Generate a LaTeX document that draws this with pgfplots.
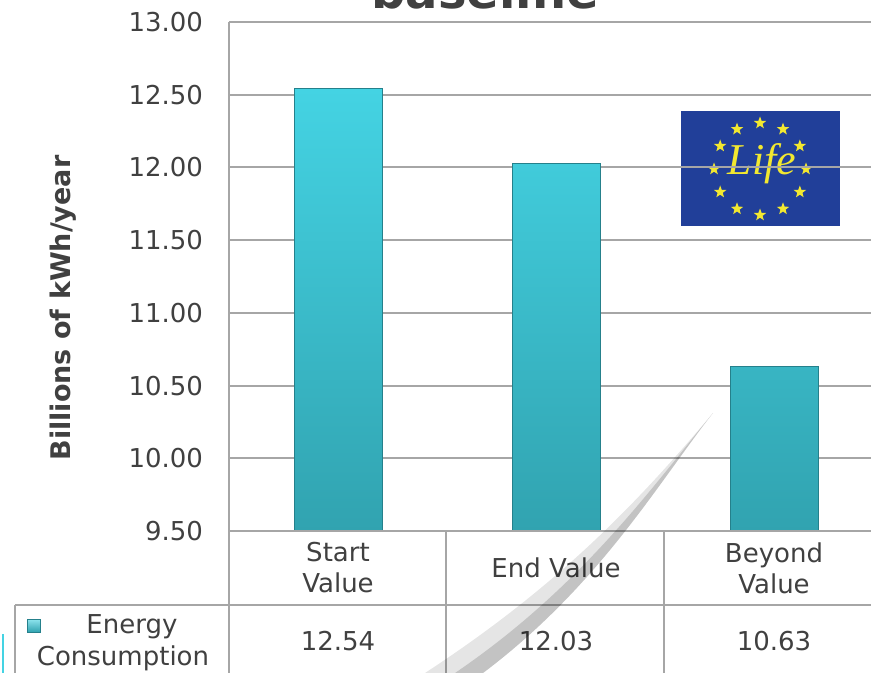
\documentclass[border=0pt]{standalone}
\usepackage{fontspec}
\setmainfont{DejaVu Sans}
\newfontfamily\logofont{Liberation Serif}
\usepackage{pgfplots}
\pgfplotsset{compat=1.18}
\usetikzlibrary{shapes.geometric}
\definecolor{txt}{HTML}{404040}
\definecolor{gridc}{HTML}{A6A6A6}
\definecolor{bartop}{HTML}{44D3E3}
\definecolor{barbot}{HTML}{31A3B0}
\definecolor{baredge}{HTML}{25808B}
\definecolor{eublue}{HTML}{213F99}
\definecolor{euyellow}{HTML}{F2E830}

\begin{document}
\begin{tikzpicture}
\path[use as bounding box, clip] (0pt,0pt) rectangle (435.5pt,-336.5pt);

% logo, behind the grid
\begin{scope}[x=0.5pt, y=-0.5pt]
  \fill[eublue] (681,111) rectangle (840,226);
  \foreach \a in {0,30,...,330}
    \node[star, star points=5, star point ratio=2.4, fill=euyellow, inner sep=0pt, minimum size=6.5pt]
      at ({760+46*cos(\a)},{169+46*sin(\a)}) {};
  \node[text=euyellow, font=\logofont\itshape\fontsize{22}{22}\selectfont] at (762,164) {Life};
\end{scope}

\begin{axis}[
  at={(114.5pt,-265.5pt)}, anchor=south west,
  scale only axis, width=327pt, height=254.5pt,
  xmin=-0.5, xmax=2.5, ymin=9.5, ymax=13,
  y coord trafo/.code={\pgfmathparse{#1-9.5}},
  y coord inv trafo/.code={\pgfmathparse{#1+9.5}},
  ytick={9.5,10,10.5,11,11.5,12,12.5,13},
  xtick={0,1,2},
  xticklabels={{Start\\Value},{End Value},{Beyond\\Value}},
  ymajorgrids, grid style={gridc, line width=1pt},
  axis line style={draw=none},
  major tick length=0pt,
  tick style={draw=none},
  yticklabel style={font=\fontsize{13}{15.5}\selectfont, text=txt, xshift=-9.5pt,
    /pgf/number format/.cd, fixed, fixed zerofill, precision=2, assume math mode=true},
  xticklabel style={font=\fontsize{13}{15.5}\selectfont, text=txt, align=center,
    anchor=center, yshift=-18.5pt},
  ybar, bar width=44pt,
]
\addplot[ybar, bar width=44pt, draw=baredge, top color=bartop, bottom color=barbot]
  coordinates {(0,12.54) (1,12.03) (2,10.63)};
\end{axis}

\begin{scope}[x=0.5pt, y=-0.5pt]
  % title and y label
  \node[anchor=base, text=txt, font=\bfseries\fontsize{24}{24}\selectfont] at (485,9) {baseline};
  \node[rotate=90, text=txt, font=\bfseries\fontsize{13.5}{13.5}\selectfont] at (63,308) {Billions of kWh/year};
  % data table
  \draw[gridc, line width=1pt] (229,22) -- (229,673);
  \draw[gridc, line width=1pt] (229,531) -- (871,531);
  \draw[gridc, line width=1pt] (15,605) -- (871,605);
  \draw[gridc, line width=1pt] (15,605) -- (15,673);
  \draw[gridc, line width=1pt] (446,531) -- (446,673);
  \draw[gridc, line width=1pt] (664,531) -- (664,673);
  \begin{scope}[every node/.style={text=txt, font=\fontsize{13}{15.5}\selectfont}]
    \node at (338,641) {12.54};
    \node at (556,641) {12.03};
    \node at (774,641) {10.63};
    \node at (132,627) {Energy};
    \node at (123,658) {Consumption};
  \end{scope}
  \draw[baredge, line width=0.5pt, top color=bartop!60!white, bottom color=barbot] (27,619) rectangle (40,632);
  \draw[bartop, line width=1pt] (3,634) -- (3,673);
  % page curl
  \fill[black, opacity=0.10]
    (713,413) .. controls (660,480) and (600,585) .. (483,673) -- (425,673)
    .. controls (560,585) and (640,500) .. (713,413);
  \fill[black, opacity=0.15]
    (713,413) .. controls (660,480) and (600,585) .. (483,673) -- (455,673)
    .. controls (580,588) and (650,490) .. (713,413);
\end{scope}
\end{tikzpicture}
\end{document}
